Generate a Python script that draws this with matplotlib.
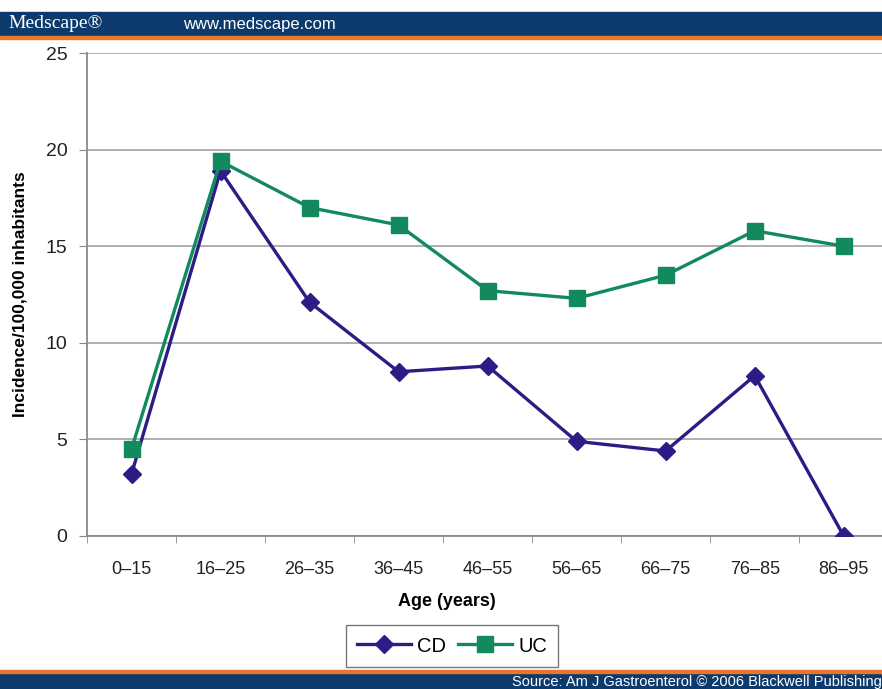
import matplotlib.pyplot as plt
from matplotlib.patches import Rectangle

plt.rcParams['font.family'] = ['Liberation Sans', 'DejaVu Sans']

# --- data ---
age_groups = ['0–15', '16–25', '26–35', '36–45', '46–55', '56–65', '66–75', '76–85', '86–95']
cd = [3.2, 18.9, 12.1, 8.5, 8.8, 4.9, 4.4, 8.3, 0.0]
uc = [4.5, 19.4, 17.0, 16.1, 12.7, 12.3, 13.5, 15.8, 15.0]

navy = '#0d3a6c'
orange = '#e8772a'
cd_color = '#2d1b86'
uc_color = '#138a5e'

fig = plt.figure(figsize=(8.82, 6.89), dpi=100)
ax = fig.add_axes([87 / 882, 1 - 536 / 689, 1 - 87 / 882, (536 - 53) / 689])

x = range(len(age_groups))
ax.plot(x, cd, color=cd_color, lw=2.4, marker='D', ms=9, label='CD', zorder=3)
ax.plot(x, uc, color=uc_color, lw=2.4, marker='s', ms=11, label='UC', zorder=3)

ax.set_ylim(0, 25)
ax.set_yticks([0, 5, 10, 15, 20, 25])
ax.set_xlim(-0.5, 8.43)
ax.set_xticks(list(x))
ax.set_xticklabels(age_groups)
ax.set_xticks([i + 0.5 for i in range(-1, 8)], minor=True)
ax.tick_params(axis='x', which='major', length=0, pad=18, labelsize=13, colors='#222222')
ax.tick_params(axis='x', which='minor', length=5, color='#888888', direction='out')
ax.tick_params(axis='y', length=6, color='#888888', labelsize=14, colors='#222222', pad=8)
ax.grid(axis='y', color='#a8a8a8', lw=1.3)
ax.set_axisbelow(True)
for s in ['top', 'right']:
    ax.spines[s].set_visible(False)
ax.spines['left'].set_color('#8a8a8a')
ax.spines['left'].set_linewidth(1.3)
ax.spines['bottom'].set_color('#8a8a8a')
ax.spines['bottom'].set_linewidth(1.3)

ax.set_xlabel('Age (years)', fontsize=13, fontweight='bold')
ax.xaxis.set_label_coords((447 - 87) / 795, -(593 - 536) / 483)
ax.set_ylabel('Incidence/100,000 inhabitants', fontsize=12.5, fontweight='bold')
ax.yaxis.set_label_coords(-(87 - 28) / 795, 0.5)

leg = fig.legend(loc='center', bbox_to_anchor=(452 / 882, 1 - 646 / 689), ncol=2,
                 fontsize=14.5, frameon=True, fancybox=False, edgecolor='#555555',
                 handlelength=2.7, columnspacing=0.6, handletextpad=0.3,
                 borderpad=0.55)
leg.get_frame().set_linewidth(1.0)

# header and footer bands
fig.add_artist(Rectangle((0, 1 - 36 / 689), 1, 24 / 689, transform=fig.transFigure,
                         color=navy, zorder=0))
fig.add_artist(Rectangle((0, 1 - 39 / 689), 1, 3 / 689, transform=fig.transFigure,
                         color=orange, zorder=0))
fig.add_artist(Rectangle((0, 0), 1, 16 / 689, transform=fig.transFigure,
                         color=navy, zorder=0))
fig.add_artist(Rectangle((0, 16 / 689), 1, 3 / 689, transform=fig.transFigure,
                         color=orange, zorder=0))

fig.text(8 / 882, 1 - 24 / 689, 'Medscape®', family='Liberation Serif', color='white',
         fontsize=14, va='center', ha='left')
fig.text(183 / 882, 1 - 24 / 689, 'www.medscape.com', color='white',
         fontsize=12, va='center', ha='left')
fig.text(882 / 882, 7 / 689, 'Source: Am J Gastroenterol © 2006 Blackwell Publishing',
         color='white', fontsize=10.5, va='center', ha='right')

fig.savefig('out.png', dpi=100, facecolor='white')
